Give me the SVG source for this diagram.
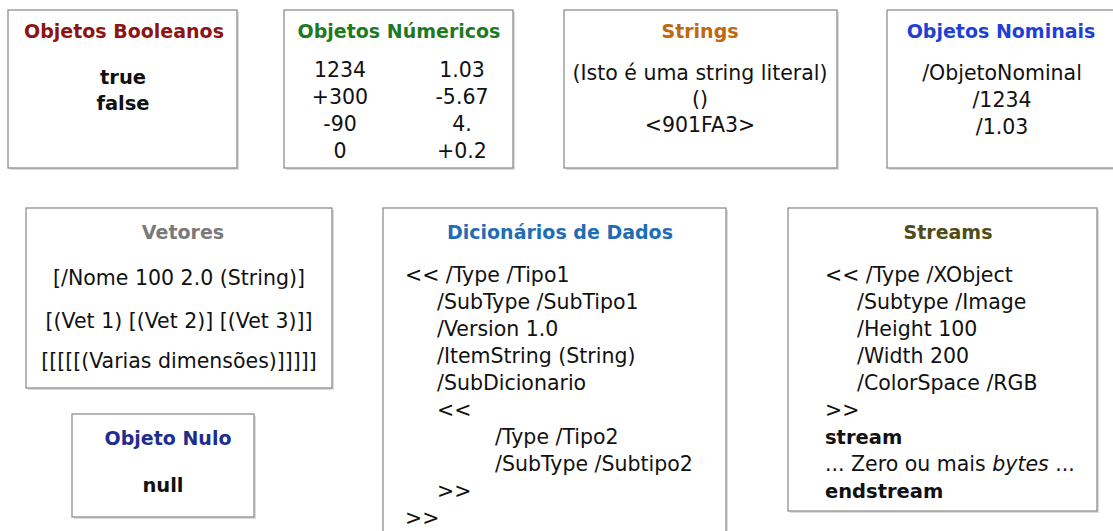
<svg xmlns="http://www.w3.org/2000/svg" width="1113" height="531" viewBox="0 0 1113 531">
<style>
.box{fill:#fff;stroke:#8f8f8f;stroke-width:1.3}
.sh{fill:#dcdcdc}
.t{font-family:"DejaVu Sans","Liberation Sans",sans-serif;font-weight:bold;font-size:19px;text-anchor:middle}
.b{font-family:"DejaVu Sans","Liberation Sans",sans-serif;font-size:20.5px;fill:#111}
.c{text-anchor:middle}
.bd{font-weight:bold;font-size:19.5px}
</style>
<rect width="1113" height="531" fill="#fff"/>
<g id="connectors"></g>
<g id="booleanos">
<rect class="sh" x="10" y="12" width="229" height="158"/>
<rect class="box" x="8" y="10" width="229" height="158"/>
<text class="t" x="124" y="38" fill="#8e1414">Objetos Booleanos</text>
<text class="b c bd" x="123" y="84">true</text>
<text class="b c bd" x="123" y="110">false</text>
</g>
<g id="numericos">
<rect class="sh" x="286" y="12" width="229" height="158"/>
<rect class="box" x="284" y="10" width="229" height="158"/>
<text class="t" x="399" y="38" fill="#1e7a1e">Objetos Númericos</text>
<text class="b c" x="340" y="77">1234</text>
<text class="b c" x="340" y="104">+300</text>
<text class="b c" x="340" y="131">-90</text>
<text class="b c" x="340" y="158">0</text>
<text class="b c" x="462" y="77">1.03</text>
<text class="b c" x="462" y="104">-5.67</text>
<text class="b c" x="462" y="131">4.</text>
<text class="b c" x="462" y="158">+0.2</text>
</g>
<g id="strings">
<rect class="sh" x="566" y="12" width="273" height="158"/>
<rect class="box" x="564" y="10" width="273" height="158"/>
<text class="t" x="700" y="38" fill="#c0680e">Strings</text>
<text class="b c" x="700" y="80">(Isto é uma string literal)</text>
<text class="b c" x="700" y="106">()</text>
<text class="b c" x="700" y="132">&lt;901FA3&gt;</text>
</g>
<g id="nominais">
<rect class="sh" x="889" y="12" width="240" height="158"/>
<rect class="box" x="887" y="10" width="240" height="158"/>
<text class="t" x="1001" y="38" fill="#1f3fd6">Objetos Nominais</text>
<text class="b c" x="1002" y="80">/ObjetoNominal</text>
<text class="b c" x="1002" y="107">/1234</text>
<text class="b c" x="1002" y="134">/1.03</text>
</g>
<g id="vetores">
<rect class="sh" x="28" y="210" width="306" height="180"/>
<rect class="box" x="26" y="208" width="306" height="180"/>
<text class="t" x="183" y="239" fill="#7a7a7a">Vetores</text>
<text class="b c" x="179" y="285">[/Nome 100 2.0 (String)]</text>
<text class="b c" x="179" y="328">[(Vet 1) [(Vet 2)] [(Vet 3)]]</text>
<text class="b c" x="179" y="368">[[[[[(Varias dimensões)]]]]]</text>
</g>
<g id="nulo">
<rect class="sh" x="74" y="416" width="182" height="103"/>
<rect class="box" x="72" y="414" width="182" height="103"/>
<text class="t" x="168" y="445" fill="#1f2e8c">Objeto Nulo</text>
<text class="b c bd" x="163" y="492">null</text>
</g>
<g id="dicionarios">
<rect class="sh" x="385" y="210" width="343" height="340"/>
<rect class="box" x="383" y="208" width="343" height="340"/>
<text class="t" x="560" y="239" fill="#1f6db5">Dicionários de Dados</text>
<text class="b" x="405" y="282">&lt;&lt; /Type /Tipo1</text>
<text class="b" x="437" y="309">/SubType /SubTipo1</text>
<text class="b" x="437" y="336">/Version 1.0</text>
<text class="b" x="437" y="363">/ItemString (String)</text>
<text class="b" x="437" y="390">/SubDicionario</text>
<text class="b" x="437" y="417">&lt;&lt;</text>
<text class="b" x="495" y="444">/Type /Tipo2</text>
<text class="b" x="495" y="471">/SubType /Subtipo2</text>
<text class="b" x="437" y="498">&gt;&gt;</text>
<text class="b" x="405" y="525">&gt;&gt;</text>
</g>
<g id="streams">
<rect class="sh" x="790" y="210" width="309" height="303"/>
<rect class="box" x="788" y="208" width="309" height="303"/>
<text class="t" x="948" y="239" fill="#4d4d18">Streams</text>
<text class="b" x="825" y="282">&lt;&lt; /Type /XObject</text>
<text class="b" x="857" y="309">/Subtype /Image</text>
<text class="b" x="857" y="336">/Height 100</text>
<text class="b" x="857" y="363">/Width 200</text>
<text class="b" x="857" y="390">/ColorSpace /RGB</text>
<text class="b" x="825" y="417">&gt;&gt;</text>
<text class="b bd" x="825" y="444">stream</text>
<text class="b" x="825" y="471">... Zero ou mais <tspan font-style="italic">bytes</tspan> ...</text>
<text class="b bd" x="825" y="498">endstream</text>
</g>
</svg>
